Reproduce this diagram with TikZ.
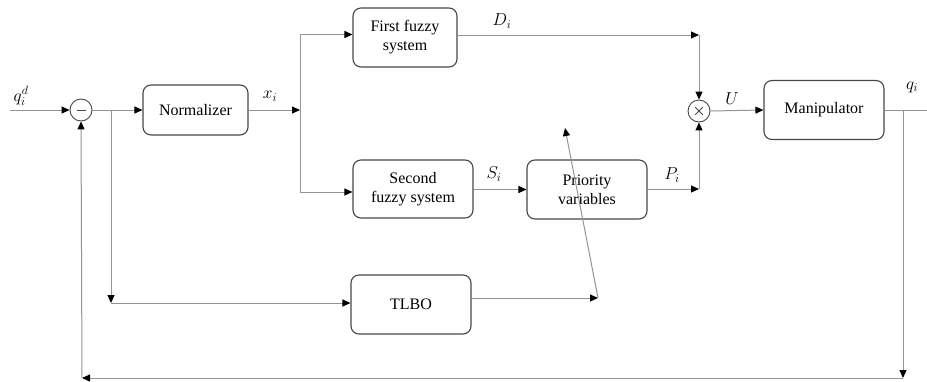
\documentclass[tikz,border=0pt]{standalone}
\usepackage{fontspec}
\setmainfont{Liberation Serif}
\usetikzlibrary{arrows.meta}
\begin{document}
\begin{tikzpicture}[x=1pt,y=-1pt,
  every node/.style={font=\fontsize{16}{19}\selectfont},
  blk/.style={draw=black!72,line width=1.1pt,rounded corners=8pt,align=center,inner sep=0pt},
  sumc/.style={draw=black!72,line width=0.9pt,circle,minimum size=22pt,inner sep=0pt},
  ln/.style={draw=black!42,line width=1pt},
  arr/.style={ln,-{Triangle[length=8pt,width=7pt,color=black]}},
  lbl/.style={inner sep=0pt,font=\fontsize{18}{20}\selectfont}]
\useasboundingbox (0,0) rectangle (927,381);
% blocks
\node[blk,minimum width=105pt,minimum height=50pt] (norm) at (195.5,110) {Normalizer};
\node[blk,minimum width=104pt,minimum height=59pt] (first) at (405,37.5) {First fuzzy\\system};
\node[blk,minimum width=120pt,minimum height=58pt] (second) at (413,189) {Second\\fuzzy system};
\node[blk,minimum width=120pt,minimum height=59pt] (prio) at (587,189.5) {Priority\\variables};
\node[blk,minimum width=120pt,minimum height=59pt] (tlbo) at (411,304.5) {TLBO};
\node[blk,minimum width=120pt,minimum height=59pt] (manip) at (824,110) {Manipulator};
\node[sumc] (minus) at (81,110) {};
\draw[black!72,line width=1pt] ([xshift=-4.5pt]minus.center) -- ([xshift=4.5pt]minus.center);
\node[sumc] (mult) at (699,111) {};
\draw[black!72,line width=0.9pt] ([shift={(-3.8pt,-3.8pt)}]mult.center) -- ([shift={(3.8pt,3.8pt)}]mult.center)
  ([shift={(-3.8pt,3.8pt)}]mult.center) -- ([shift={(3.8pt,-3.8pt)}]mult.center);
% coordinates
\coordinate (in) at (10,110);
\coordinate (j1) at (111,110);
\coordinate (b2) at (111,303);
\coordinate (j2) at (300,110);
\coordinate (dc) at (699,35);
\coordinate (pc) at (699,189);
\coordinate (t2) at (598,298);
\coordinate (dtop) at (565,128);
\coordinate (qj) at (903,110);
\coordinate (qout) at (927,110);
\coordinate (qb) at (903,378);
\coordinate (fb) at (82,378);
% connectors
\draw[arr] (in) -- (minus.west);
\draw[arr] (minus.east) -- (norm.west);
\draw[arr] (j1) -- (b2);
\draw[arr] (b2) -- (b2 -| tlbo.west);
\draw[arr] (norm.east) -- (j2);
\draw[arr] (j2) |- ([yshift=3pt]first.west);
\draw[arr] (j2) |- ([yshift=-3pt]second.west);
\draw[arr] (first.east |- dc) -- (dc);
\draw[arr] (dc) -- (mult.north);
\draw[arr] (second.east |- prio.west) -- (prio.west);
\draw[arr] (prio.east |- pc) -- (pc);
\draw[arr] (pc) -- (mult.south);
\draw[arr] (mult.east) -- (manip.west);
\draw[arr] (tlbo.east |- t2) -- (t2);
\draw[arr] (t2) -- (dtop);
\draw[ln] (manip.east) -- (qout);
\draw[arr] (qj) -- (qb);
\draw[arr] (qb) -- (fb);
\draw[arr] (fb) -- (minus.south);
% labels
\node[lbl] (lq) at (21,96) {$q_i^d$};
\node[lbl] (lx) at (270,96) {$x_i$};
\node[lbl] (ld) at (502,21) {$D_i$};
\node[lbl] (ls) at (494,174) {$S_i$};
\node[lbl] (lp) at (672,175) {$P_i$};
\node[lbl] (lu) at (732,99) {$U$};
\node[lbl] (lqi) at (912,87) {$q_i$};
\end{tikzpicture}
\end{document}
